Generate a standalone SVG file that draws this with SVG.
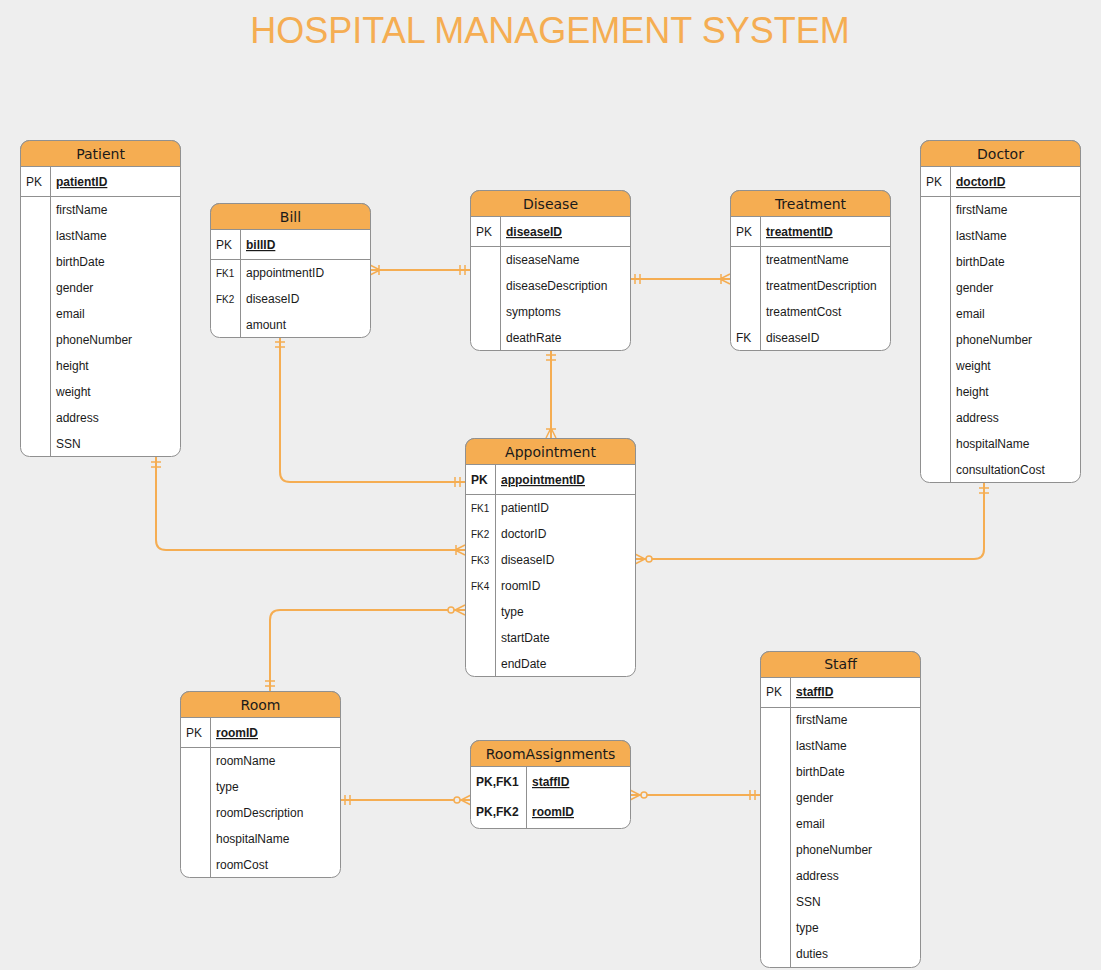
<svg xmlns="http://www.w3.org/2000/svg" width="1101" height="970" viewBox="0 0 1101 970">
<style>
.tb{fill:#fff;stroke:#909090;stroke-width:1}
.hd{fill:#F5AD52;stroke:#909090;stroke-width:1}
.ln{stroke:#909090;stroke-width:1;fill:none}
.ht{font-family:"DejaVu Sans",sans-serif;font-size:14px;fill:#1a1a1a;text-anchor:middle}
.at{font-family:"Liberation Sans",Arial,sans-serif;font-size:12px;fill:#1a1a1a}
.fk{font-size:10px}
.b{font-weight:bold}
.pk{font-weight:bold;text-decoration:underline}
.cn{fill:none;stroke:#F5AD52;stroke-width:2}
.mk{fill:none;stroke:#F5AD52;stroke-width:1.5}
.title{font-family:"Liberation Sans",Arial,sans-serif;font-size:36px;fill:#F5AD52;text-anchor:middle}
</style>
<defs>
<marker id="one" markerUnits="userSpaceOnUse" markerWidth="24" markerHeight="20" viewBox="0 0 24 20" refX="20" refY="10" orient="auto-start-reverse" overflow="visible">
<path class="mk" d="M10 5V15M15 5V15"/>
</marker>
<marker id="many" markerUnits="userSpaceOnUse" markerWidth="24" markerHeight="20" viewBox="0 0 24 20" refX="20" refY="10" orient="auto-start-reverse" overflow="visible">
<path class="mk" d="M20 5L10 10L20 15M11 5V15"/>
</marker>
<marker id="zmany" markerUnits="userSpaceOnUse" markerWidth="24" markerHeight="20" viewBox="0 0 24 20" refX="20" refY="10" orient="auto-start-reverse" overflow="visible">
<path class="mk" d="M20 5L10 10L20 15"/>
<circle cx="6" cy="10" r="3" fill="#EEEEEE" stroke="#F5AD52" stroke-width="1.5"/>
</marker>
</defs>
<rect x="0" y="0" width="1101" height="970" fill="#EEEEEE"/>
<text class="title" x="550" y="43">HOSPITAL MANAGEMENT SYSTEM</text>

<g id="connectors">
<path class="cn" d="M370 270H470" marker-start="url(#many)" marker-end="url(#one)"/>
<path class="cn" d="M630 279H730" marker-start="url(#one)" marker-end="url(#many)"/>
<path class="cn" d="M551 350V438" marker-start="url(#one)" marker-end="url(#many)"/>
<path class="cn" d="M280 337V472Q280 482 290 482H465" marker-start="url(#one)" marker-end="url(#one)"/>
<path class="cn" d="M156 457V540Q156 550 166 550H465" marker-start="url(#one)" marker-end="url(#many)"/>
<path class="cn" d="M984 483V549Q984 559 974 559H635" marker-start="url(#one)" marker-end="url(#zmany)"/>
<path class="cn" d="M270 691V620Q270 610 280 610H465" marker-start="url(#one)" marker-end="url(#zmany)"/>
<path class="cn" d="M340 800H471" marker-start="url(#one)" marker-end="url(#zmany)"/>
<path class="cn" d="M630 795H760" marker-start="url(#zmany)" marker-end="url(#one)"/>
</g>

<g id="patient">
<rect class="tb" x="20.5" y="140.5" width="160" height="316" rx="9"/>
<path class="hd" d="M20.5 166.5V149.5A9 9 0 0 1 29.5 140.5H171.5A9 9 0 0 1 180.5 149.5V166.5Z"/>
<path class="ln" d="M20.5 196.5H180.5M50.5 166.5V456.5"/>
<text class="ht" x="100.5" y="159">Patient</text>
<text class="at" x="26" y="186">PK</text>
<text class="at pk" x="56" y="186">patientID</text>
<text class="at" x="56" y="214">firstName</text>
<text class="at" x="56" y="240">lastName</text>
<text class="at" x="56" y="266">birthDate</text>
<text class="at" x="56" y="292">gender</text>
<text class="at" x="56" y="318">email</text>
<text class="at" x="56" y="344">phoneNumber</text>
<text class="at" x="56" y="370">height</text>
<text class="at" x="56" y="396">weight</text>
<text class="at" x="56" y="422">address</text>
<text class="at" x="56" y="448">SSN</text>
</g>

<g id="bill">
<rect class="tb" x="210.5" y="203.5" width="160" height="134" rx="9"/>
<path class="hd" d="M210.5 229.5V212.5A9 9 0 0 1 219.5 203.5H361.5A9 9 0 0 1 370.5 212.5V229.5Z"/>
<path class="ln" d="M210.5 259.5H370.5M240.5 229.5V337.5"/>
<text class="ht" x="290.5" y="222">Bill</text>
<text class="at" x="216" y="249">PK</text>
<text class="at pk" x="246" y="249">billID</text>
<text class="at fk" x="216" y="277">FK1</text>
<text class="at" x="246" y="277">appointmentID</text>
<text class="at fk" x="216" y="303">FK2</text>
<text class="at" x="246" y="303">diseaseID</text>
<text class="at" x="246" y="329">amount</text>
</g>

<g id="disease">
<rect class="tb" x="470.5" y="190.5" width="160" height="160" rx="9"/>
<path class="hd" d="M470.5 216.5V199.5A9 9 0 0 1 479.5 190.5H621.5A9 9 0 0 1 630.5 199.5V216.5Z"/>
<path class="ln" d="M470.5 246.5H630.5M500.5 216.5V350.5"/>
<text class="ht" x="550.5" y="209">Disease</text>
<text class="at" x="476" y="236">PK</text>
<text class="at pk" x="506" y="236">diseaseID</text>
<text class="at" x="506" y="264">diseaseName</text>
<text class="at" x="506" y="290">diseaseDescription</text>
<text class="at" x="506" y="316">symptoms</text>
<text class="at" x="506" y="342">deathRate</text>
</g>

<g id="treatment">
<rect class="tb" x="730.5" y="190.5" width="160" height="160" rx="9"/>
<path class="hd" d="M730.5 216.5V199.5A9 9 0 0 1 739.5 190.5H881.5A9 9 0 0 1 890.5 199.5V216.5Z"/>
<path class="ln" d="M730.5 246.5H890.5M760.5 216.5V350.5"/>
<text class="ht" x="810.5" y="209">Treatment</text>
<text class="at" x="736" y="236">PK</text>
<text class="at pk" x="766" y="236">treatmentID</text>
<text class="at" x="766" y="264">treatmentName</text>
<text class="at" x="766" y="290">treatmentDescription</text>
<text class="at" x="766" y="316">treatmentCost</text>
<text class="at" x="736" y="342">FK</text>
<text class="at" x="766" y="342">diseaseID</text>
</g>

<g id="doctor">
<rect class="tb" x="920.5" y="140.5" width="160" height="342" rx="9"/>
<path class="hd" d="M920.5 166.5V149.5A9 9 0 0 1 929.5 140.5H1071.5A9 9 0 0 1 1080.5 149.5V166.5Z"/>
<path class="ln" d="M920.5 196.5H1080.5M950.5 166.5V482.5"/>
<text class="ht" x="1000.5" y="159">Doctor</text>
<text class="at" x="926" y="186">PK</text>
<text class="at pk" x="956" y="186">doctorID</text>
<text class="at" x="956" y="214">firstName</text>
<text class="at" x="956" y="240">lastName</text>
<text class="at" x="956" y="266">birthDate</text>
<text class="at" x="956" y="292">gender</text>
<text class="at" x="956" y="318">email</text>
<text class="at" x="956" y="344">phoneNumber</text>
<text class="at" x="956" y="370">weight</text>
<text class="at" x="956" y="396">height</text>
<text class="at" x="956" y="422">address</text>
<text class="at" x="956" y="448">hospitalName</text>
<text class="at" x="956" y="474">consultationCost</text>
</g>

<g id="appointment">
<rect class="tb" x="465.5" y="438.5" width="170" height="238" rx="9"/>
<path class="hd" d="M465.5 464.5V447.5A9 9 0 0 1 474.5 438.5H626.5A9 9 0 0 1 635.5 447.5V464.5Z"/>
<path class="ln" d="M465.5 494.5H635.5M495.5 464.5V676.5"/>
<text class="ht" x="550.5" y="457">Appointment</text>
<text class="at b" x="471" y="484">PK</text>
<text class="at pk" x="501" y="484">appointmentID</text>
<text class="at fk" x="471" y="512">FK1</text>
<text class="at" x="501" y="512">patientID</text>
<text class="at fk" x="471" y="538">FK2</text>
<text class="at" x="501" y="538">doctorID</text>
<text class="at fk" x="471" y="564">FK3</text>
<text class="at" x="501" y="564">diseaseID</text>
<text class="at fk" x="471" y="590">FK4</text>
<text class="at" x="501" y="590">roomID</text>
<text class="at" x="501" y="616">type</text>
<text class="at" x="501" y="642">startDate</text>
<text class="at" x="501" y="668">endDate</text>
</g>

<g id="room">
<rect class="tb" x="180.5" y="691.5" width="160" height="186" rx="9"/>
<path class="hd" d="M180.5 717.5V700.5A9 9 0 0 1 189.5 691.5H331.5A9 9 0 0 1 340.5 700.5V717.5Z"/>
<path class="ln" d="M180.5 747.5H340.5M210.5 717.5V877.5"/>
<text class="ht" x="260.5" y="710">Room</text>
<text class="at" x="186" y="737">PK</text>
<text class="at pk" x="216" y="737">roomID</text>
<text class="at" x="216" y="765">roomName</text>
<text class="at" x="216" y="791">type</text>
<text class="at" x="216" y="817">roomDescription</text>
<text class="at" x="216" y="843">hospitalName</text>
<text class="at" x="216" y="869">roomCost</text>
</g>

<g id="roomassignments">
<rect class="tb" x="470.5" y="740.5" width="160" height="88" rx="9"/>
<path class="hd" d="M470.5 766.5V749.5A9 9 0 0 1 479.5 740.5H621.5A9 9 0 0 1 630.5 749.5V766.5Z"/>
<path class="ln" d="M526.5 766.5V828.5"/>
<text class="ht" x="550.5" y="759">RoomAssignments</text>
<text class="at b" x="476" y="786">PK,FK1</text>
<text class="at pk" x="532" y="786">staffID</text>
<text class="at b" x="476" y="816">PK,FK2</text>
<text class="at pk" x="532" y="816">roomID</text>
</g>

<g id="staff">
<rect class="tb" x="760.5" y="651.5" width="160" height="316" rx="9"/>
<path class="hd" d="M760.5 677.5V660.5A9 9 0 0 1 769.5 651.5H911.5A9 9 0 0 1 920.5 660.5V677.5Z"/>
<path class="ln" d="M760.5 707.5H920.5M790.5 677.5V967.5"/>
<text class="ht" x="840.5" y="669">Staff</text>
<text class="at" x="766" y="696">PK</text>
<text class="at pk" x="796" y="696">staffID</text>
<text class="at" x="796" y="724">firstName</text>
<text class="at" x="796" y="750">lastName</text>
<text class="at" x="796" y="776">birthDate</text>
<text class="at" x="796" y="802">gender</text>
<text class="at" x="796" y="828">email</text>
<text class="at" x="796" y="854">phoneNumber</text>
<text class="at" x="796" y="880">address</text>
<text class="at" x="796" y="906">SSN</text>
<text class="at" x="796" y="932">type</text>
<text class="at" x="796" y="958">duties</text>
</g>
</svg>
